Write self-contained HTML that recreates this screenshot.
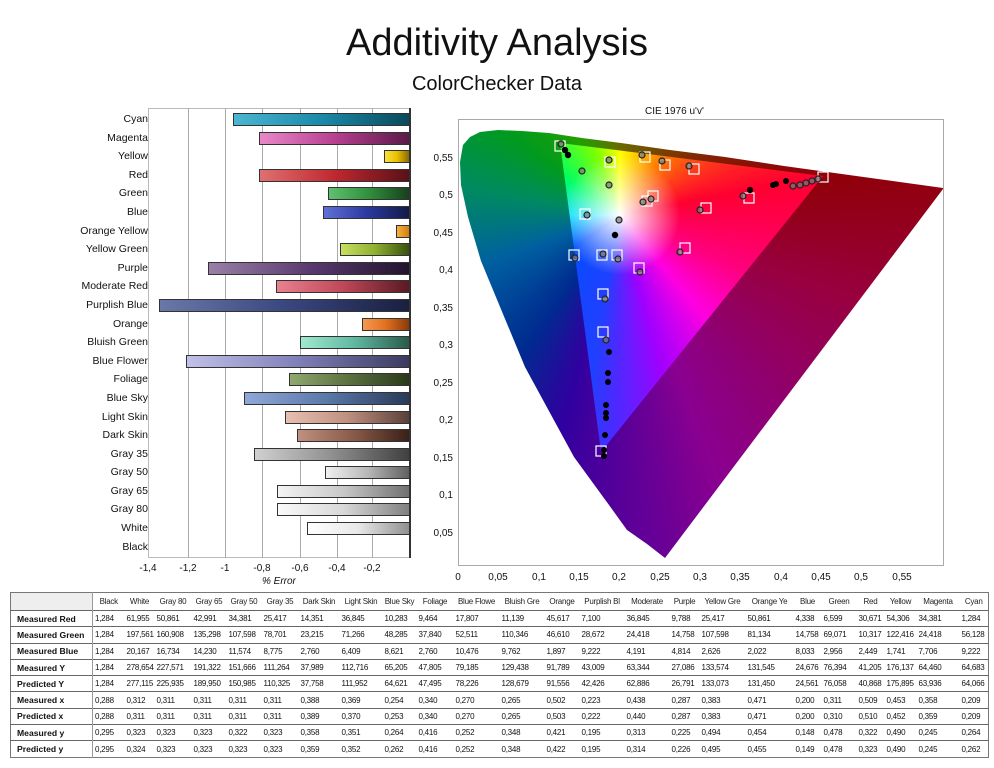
<!DOCTYPE html>
<html><head><meta charset="utf-8">
<style>
body{margin:0;width:994px;height:768px;background:#fff;font-family:"Liberation Sans",sans-serif;position:relative;overflow:hidden;color:#111}
.abs{position:absolute}
.lbl{position:absolute;right:846px;font-size:10.5px;text-align:right;white-space:nowrap}
.bar{position:absolute;height:13px;border:1px solid #333;box-sizing:border-box}
.grid{position:absolute;top:108px;height:450px;width:1px;background:#aaa}
.xl{position:absolute;top:563px;font-size:10px;transform:translateX(-50%)}
table{position:absolute;left:10px;top:592px;width:978px;border-collapse:collapse;table-layout:fixed;font-size:8px;letter-spacing:-0.25px;border:1px solid #777}
td{height:15.3px;padding:0 0 0 2px;white-space:nowrap;overflow:hidden;border-top:1px solid #666}
tr:first-child td{height:17px;text-align:center;padding:0;border-top:none;color:#222}
tr:first-child td:first-child{background:#eee}
td:first-child{font-weight:bold;padding-left:6px;font-size:8.6px;letter-spacing:0;border-right:1px solid #999}
</style></head><body>
<div class="abs" style="left:0;width:994px;top:22px;text-align:center;font-size:38px">Additivity Analysis</div>
<div class="abs" style="left:0;width:994px;top:73px;text-align:center;font-size:20px">ColorChecker Data</div>

<div class="abs" style="left:148px;top:108px;width:262px;height:450px;border:1px solid #bbb;box-sizing:border-box"></div>
<div class="grid" style="left:188px"></div><div class="grid" style="left:225px"></div><div class="grid" style="left:262px"></div><div class="grid" style="left:300px"></div><div class="grid" style="left:337px"></div><div class="grid" style="left:372px"></div>
<div class="abs" style="left:409px;top:108px;width:2px;height:450px;background:#333"></div>

<div class="lbl" style="top:113px">Cyan</div><div class="bar" style="left:233px;width:177px;top:113px;background:linear-gradient(90deg,#4ab6d2,#1a8aa8,#0a4a5c)"></div>
<div class="lbl" style="top:132px">Magenta</div><div class="bar" style="left:259px;width:151px;top:132px;background:linear-gradient(90deg,#e888c8,#b84090,#5a1a48)"></div>
<div class="lbl" style="top:150px">Yellow</div><div class="bar" style="left:384px;width:26px;top:150px;background:linear-gradient(90deg,#f8e040,#e8c000,#8a6a00)"></div>
<div class="lbl" style="top:169px">Red</div><div class="bar" style="left:259px;width:151px;top:169px;background:linear-gradient(90deg,#e07070,#c02830,#5a1018)"></div>
<div class="lbl" style="top:187px">Green</div><div class="bar" style="left:328px;width:82px;top:187px;background:linear-gradient(90deg,#60c070,#30903c,#18401e)"></div>
<div class="lbl" style="top:206px">Blue</div><div class="bar" style="left:323px;width:87px;top:206px;background:linear-gradient(90deg,#6070d8,#2a3aa0,#141a48)"></div>
<div class="lbl" style="top:225px">Orange Yellow</div><div class="bar" style="left:396px;width:14px;top:225px;background:linear-gradient(90deg,#f8b040,#d08010)"></div>
<div class="lbl" style="top:243px">Yellow Green</div><div class="bar" style="left:340px;width:70px;top:243px;background:linear-gradient(90deg,#c8e060,#90b030,#3a5010)"></div>
<div class="lbl" style="top:262px">Purple</div><div class="bar" style="left:208px;width:202px;top:262px;background:linear-gradient(90deg,#9a80a8,#5a3a70,#22142e)"></div>
<div class="lbl" style="top:280px">Moderate Red</div><div class="bar" style="left:276px;width:134px;top:280px;background:linear-gradient(90deg,#e88090,#c04858,#5a1a24)"></div>
<div class="lbl" style="top:299px">Purplish Blue</div><div class="bar" style="left:159px;width:251px;top:299px;background:linear-gradient(90deg,#6a78a8,#3a4880,#1a2040)"></div>
<div class="lbl" style="top:318px">Orange</div><div class="bar" style="left:362px;width:48px;top:318px;background:linear-gradient(90deg,#f89850,#e07020,#8a3a08)"></div>
<div class="lbl" style="top:336px">Bluish Green</div><div class="bar" style="left:300px;width:110px;top:336px;background:linear-gradient(90deg,#a0e8d0,#60b8a0,#2a5a4c)"></div>
<div class="lbl" style="top:355px">Blue Flower</div><div class="bar" style="left:186px;width:224px;top:355px;background:linear-gradient(90deg,#c0c0e8,#8080b8,#3a3a60)"></div>
<div class="lbl" style="top:373px">Foliage</div><div class="bar" style="left:289px;width:121px;top:373px;background:linear-gradient(90deg,#90a870,#5a7040,#2a3a1a)"></div>
<div class="lbl" style="top:392px">Blue Sky</div><div class="bar" style="left:244px;width:166px;top:392px;background:linear-gradient(90deg,#90a8d8,#5a78a8,#2a3a58)"></div>
<div class="lbl" style="top:411px">Light Skin</div><div class="bar" style="left:285px;width:125px;top:411px;background:linear-gradient(90deg,#e8c0b0,#c09080,#5a4038)"></div>
<div class="lbl" style="top:429px">Dark Skin</div><div class="bar" style="left:297px;width:113px;top:429px;background:linear-gradient(90deg,#c09080,#8a5a48,#3a2018)"></div>
<div class="lbl" style="top:448px">Gray 35</div><div class="bar" style="left:254px;width:156px;top:448px;background:linear-gradient(90deg,#d0d0d0,#909090,#404040)"></div>
<div class="lbl" style="top:466px">Gray 50</div><div class="bar" style="left:325px;width:85px;top:466px;background:linear-gradient(90deg,#f0f0f0,#b8b8b8,#606060)"></div>
<div class="lbl" style="top:485px">Gray 65</div><div class="bar" style="left:277px;width:133px;top:485px;background:linear-gradient(90deg,#f4f4f4,#c8c8c8,#707070)"></div>
<div class="lbl" style="top:503px">Gray 80</div><div class="bar" style="left:277px;width:133px;top:503px;background:linear-gradient(90deg,#fafafa,#d8d8d8,#808080)"></div>
<div class="lbl" style="top:522px">White</div><div class="bar" style="left:307px;width:103px;top:522px;background:linear-gradient(90deg,#fff,#e8e8e8,#909090)"></div>
<div class="lbl" style="top:541px">Black</div>

<div class="xl" style="left:148px">-1,4</div><div class="xl" style="left:188px">-1,2</div><div class="xl" style="left:225px">-1</div><div class="xl" style="left:262px">-0,8</div><div class="xl" style="left:300px">-0,6</div><div class="xl" style="left:337px">-0,4</div><div class="xl" style="left:372px">-0,2</div>
<div class="abs" style="left:262px;top:576px;font-size:10px;font-style:italic">% Error</div>

<div class="abs" style="left:645px;top:106px;font-size:10px">CIE 1976 u'v'</div>
<div class="abs" style="left:458px;top:119px;width:486px;height:447px;border:1px solid #aaa;box-sizing:border-box"></div>
<div class="abs" style="left:0;top:0;width:994px;height:768px;clip-path:polygon(665px 558px,647px 544px,627px 530px,609px 505px,574px 457px,525px 367px,481px 261px,468px 217px,461px 185px,460px 162px,463px 145px,470px 137px,480px 132px,498px 130px,522px 131px,549px 133px,582px 138px,621px 143px,670px 150px,725px 157px,784px 166px,878px 179px,943px 188px,943px 189px);background:conic-gradient(from 0deg at 620px 215px,#6a6a00 0deg,#7a3a00 40deg,#900008 80deg,#980040 110deg,#8a0090 160deg,#3000a0 195deg,#002a90 215deg,#0060a0 250deg,#008a60 280deg,#009a20 305deg,#20a000 330deg,#6a6a00 360deg)"></div>
<div class="abs" style="left:0;top:0;width:994px;height:768px;clip-path:polygon(560px 143px,823px 176px,601px 452px);background:radial-gradient(circle at 620px 215px,#fff 0,rgba(255,255,255,0.8) 12px,rgba(255,255,255,0) 60px),conic-gradient(from 0deg at 620px 215px,#ffff00 0deg,#ff8000 35deg,#ff0030 79deg,#ff0080 115deg,#ff00e0 140deg,#a000ff 165deg,#2040ff 190deg,#0050ff 235deg,#00e0ff 270deg,#00ff60 305deg,#80ff00 340deg,#ffff00 360deg)"></div>

<svg class="abs" style="left:0;top:0" width="994" height="768">
<g font-size="10" font-family="Liberation Sans" fill="#111" text-anchor="end">
<text x="453" y="161">0,55</text><text x="453" y="198">0,5</text><text x="453" y="236">0,45</text><text x="453" y="273">0,4</text><text x="453" y="311">0,35</text><text x="453" y="348">0,3</text><text x="453" y="386">0,25</text><text x="453" y="423">0,2</text><text x="453" y="461">0,15</text><text x="453" y="498">0,1</text><text x="453" y="536">0,05</text>
</g>
<g font-size="10" font-family="Liberation Sans" fill="#111" text-anchor="middle">
<text x="458" y="580">0</text><text x="498" y="580">0,05</text><text x="539" y="580">0,1</text><text x="579" y="580">0,15</text><text x="619" y="580">0,2</text><text x="660" y="580">0,25</text><text x="700" y="580">0,3</text><text x="740" y="580">0,35</text><text x="781" y="580">0,4</text><text x="821" y="580">0,45</text><text x="861" y="580">0,5</text><text x="902" y="580">0,55</text>
</g>
<g fill="none" stroke="#fff" stroke-width="1.2">
<rect x="555" y="141" width="10" height="10"/><rect x="605" y="157" width="10" height="10"/><rect x="640" y="152" width="10" height="10"/><rect x="660" y="160" width="10" height="10"/><rect x="689" y="164" width="10" height="10"/><rect x="818" y="172" width="10" height="10"/><rect x="744" y="193" width="10" height="10"/><rect x="701" y="203" width="10" height="10"/><rect x="648" y="191" width="10" height="10"/><rect x="642" y="196" width="10" height="10"/><rect x="580" y="209" width="10" height="10"/><rect x="569" y="250" width="10" height="10"/><rect x="597" y="250" width="10" height="10"/><rect x="612" y="250" width="10" height="10"/><rect x="680" y="243" width="10" height="10"/><rect x="634" y="263" width="10" height="10"/><rect x="598" y="289" width="10" height="10"/><rect x="598" y="327" width="10" height="10"/><rect x="596" y="446" width="10" height="10"/>
</g>
<g stroke="#222" stroke-width="1.2" fill="#777" fill-opacity="0.7">
<circle cx="561" cy="144" r="3"/><circle cx="609" cy="160" r="3"/><circle cx="642" cy="155" r="3"/><circle cx="662" cy="161" r="3"/><circle cx="689" cy="166" r="3"/><circle cx="582" cy="171" r="3"/><circle cx="609" cy="185" r="3"/><circle cx="743" cy="196" r="3"/><circle cx="651" cy="199" r="3"/><circle cx="643" cy="202" r="3"/><circle cx="700" cy="210" r="3"/><circle cx="587" cy="215" r="3"/><circle cx="619" cy="220" r="3"/><circle cx="575" cy="258" r="3"/><circle cx="603" cy="254" r="3"/><circle cx="618" cy="259" r="3"/><circle cx="680" cy="252" r="3"/><circle cx="640" cy="272" r="3"/><circle cx="605" cy="299" r="3"/><circle cx="606" cy="340" r="3"/>
<circle cx="800" cy="185" r="3"/><circle cx="806" cy="183" r="3"/><circle cx="812" cy="181" r="3"/><circle cx="818" cy="179" r="3"/><circle cx="793" cy="186" r="3"/>
</g>
<g fill="#000">
<circle cx="565" cy="150" r="3.2"/><circle cx="568" cy="155" r="3.2"/><circle cx="615" cy="235" r="3.2"/><circle cx="750" cy="190" r="3.2"/><circle cx="773" cy="185" r="3"/><circle cx="776" cy="184" r="3"/><circle cx="786" cy="181" r="3"/>
<circle cx="609" cy="352" r="3"/><circle cx="608" cy="373" r="3"/><circle cx="608" cy="382" r="3"/><circle cx="606" cy="405" r="3"/><circle cx="606" cy="413" r="3"/><circle cx="606" cy="418" r="3"/><circle cx="605" cy="435" r="3"/><circle cx="604" cy="450" r="3"/><circle cx="604" cy="456" r="3"/>
</g>
</svg>

<table>
<colgroup><col style="width:82px"><col style="width:32px"><col style="width:30px"><col style="width:37px"><col style="width:35px"><col style="width:35px"><col style="width:37px"><col style="width:41px"><col style="width:43px"><col style="width:34px"><col style="width:37px"><col style="width:46px"><col style="width:45px"><col style="width:35px"><col style="width:45px"><col style="width:45px"><col style="width:30px"><col style="width:46px"><col style="width:48px"><col style="width:28px"><col style="width:35px"><col style="width:28px"><col style="width:32px"><col style="width:43px"><col style="width:29px"></colgroup>
<tr><td></td><td>Black</td><td>White</td><td>Gray 80</td><td>Gray 65</td><td>Gray 50</td><td>Gray 35</td><td>Dark Skin</td><td>Light Skin</td><td>Blue Sky</td><td>Foliage</td><td>Blue Flowe</td><td>Bluish Gre</td><td>Orange</td><td>Purplish Bl</td><td>Moderate</td><td>Purple</td><td>Yellow Gre</td><td>Orange Ye</td><td>Blue</td><td>Green</td><td>Red</td><td>Yellow</td><td>Magenta</td><td>Cyan</td></tr>
<tr><td>Measured Red</td><td>1,284</td><td>61,955</td><td>50,861</td><td>42,991</td><td>34,381</td><td>25,417</td><td>14,351</td><td>36,845</td><td>10,283</td><td>9,464</td><td>17,807</td><td>11,139</td><td>45,617</td><td>7,100</td><td>36,845</td><td>9,788</td><td>25,417</td><td>50,861</td><td>4,338</td><td>6,599</td><td>30,671</td><td>54,306</td><td>34,381</td><td>1,284</td></tr>
<tr><td>Measured Green</td><td>1,284</td><td>197,561</td><td>160,908</td><td>135,298</td><td>107,598</td><td>78,701</td><td>23,215</td><td>71,266</td><td>48,285</td><td>37,840</td><td>52,511</td><td>110,346</td><td>46,610</td><td>28,672</td><td>24,418</td><td>14,758</td><td>107,598</td><td>81,134</td><td>14,758</td><td>69,071</td><td>10,317</td><td>122,416</td><td>24,418</td><td>56,128</td></tr>
<tr><td>Measured Blue</td><td>1,284</td><td>20,167</td><td>16,734</td><td>14,230</td><td>11,574</td><td>8,775</td><td>2,760</td><td>6,409</td><td>8,621</td><td>2,760</td><td>10,476</td><td>9,762</td><td>1,897</td><td>9,222</td><td>4,191</td><td>4,814</td><td>2,626</td><td>2,022</td><td>8,033</td><td>2,956</td><td>2,449</td><td>1,741</td><td>7,706</td><td>9,222</td></tr>
<tr><td>Measured Y</td><td>1,284</td><td>278,654</td><td>227,571</td><td>191,322</td><td>151,666</td><td>111,264</td><td>37,989</td><td>112,716</td><td>65,205</td><td>47,805</td><td>79,185</td><td>129,438</td><td>91,789</td><td>43,009</td><td>63,344</td><td>27,086</td><td>133,574</td><td>131,545</td><td>24,676</td><td>76,394</td><td>41,205</td><td>176,137</td><td>64,460</td><td>64,683</td></tr>
<tr><td>Predicted Y</td><td>1,284</td><td>277,115</td><td>225,935</td><td>189,950</td><td>150,985</td><td>110,325</td><td>37,758</td><td>111,952</td><td>64,621</td><td>47,495</td><td>78,226</td><td>128,679</td><td>91,556</td><td>42,426</td><td>62,886</td><td>26,791</td><td>133,073</td><td>131,450</td><td>24,561</td><td>76,058</td><td>40,868</td><td>175,895</td><td>63,936</td><td>64,066</td></tr>
<tr><td>Measured x</td><td>0,288</td><td>0,312</td><td>0,311</td><td>0,311</td><td>0,311</td><td>0,311</td><td>0,388</td><td>0,369</td><td>0,254</td><td>0,340</td><td>0,270</td><td>0,265</td><td>0,502</td><td>0,223</td><td>0,438</td><td>0,287</td><td>0,383</td><td>0,471</td><td>0,200</td><td>0,311</td><td>0,509</td><td>0,453</td><td>0,358</td><td>0,209</td></tr>
<tr><td>Predicted x</td><td>0,288</td><td>0,311</td><td>0,311</td><td>0,311</td><td>0,311</td><td>0,311</td><td>0,389</td><td>0,370</td><td>0,253</td><td>0,340</td><td>0,270</td><td>0,265</td><td>0,503</td><td>0,222</td><td>0,440</td><td>0,287</td><td>0,383</td><td>0,471</td><td>0,200</td><td>0,310</td><td>0,510</td><td>0,452</td><td>0,359</td><td>0,209</td></tr>
<tr><td>Measured y</td><td>0,295</td><td>0,323</td><td>0,323</td><td>0,323</td><td>0,322</td><td>0,323</td><td>0,358</td><td>0,351</td><td>0,264</td><td>0,416</td><td>0,252</td><td>0,348</td><td>0,421</td><td>0,195</td><td>0,313</td><td>0,225</td><td>0,494</td><td>0,454</td><td>0,148</td><td>0,478</td><td>0,322</td><td>0,490</td><td>0,245</td><td>0,264</td></tr>
<tr><td>Predicted y</td><td>0,295</td><td>0,324</td><td>0,323</td><td>0,323</td><td>0,323</td><td>0,323</td><td>0,359</td><td>0,352</td><td>0,262</td><td>0,416</td><td>0,252</td><td>0,348</td><td>0,422</td><td>0,195</td><td>0,314</td><td>0,226</td><td>0,495</td><td>0,455</td><td>0,149</td><td>0,478</td><td>0,323</td><td>0,490</td><td>0,245</td><td>0,262</td></tr>
</table>
</body></html>
